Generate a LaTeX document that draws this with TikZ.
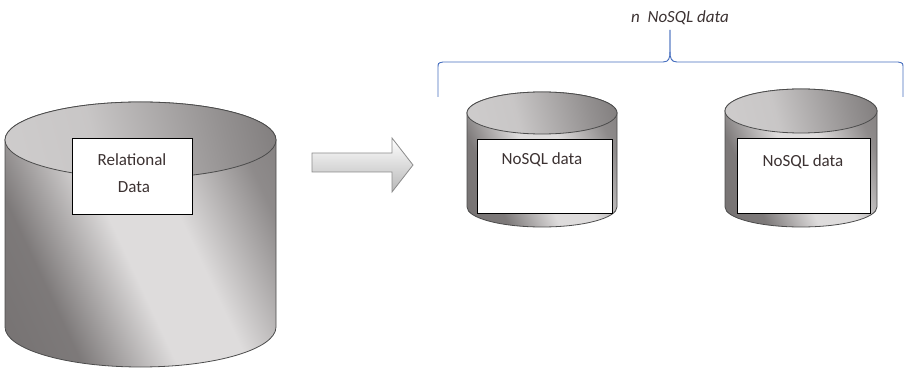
\documentclass[tikz,border=0pt]{standalone}
\usepackage{fontspec}
\setmainfont{Carlito}
\definecolor{cylDark}{RGB}{108,104,104}
\definecolor{cylLight}{RGB}{222,220,220}
\definecolor{capLight}{RGB}{212,210,210}
\definecolor{capDark}{RGB}{96,92,92}
\definecolor{txtGray}{RGB}{60,50,50}
\definecolor{braceBlue}{RGB}{70,110,190}
\pgfdeclarehorizontalshading{cylbody}{100bp}{%
  color(0bp)=(cylDark);
  color(30bp)=(cylDark!85!cylLight);
  color(46bp)=(cylLight);
  color(58bp)=(cylLight);
  color(74bp)=(cylDark!70!cylLight);
  color(100bp)=(cylDark)}
\pgfdeclarehorizontalshading{cylcap}{100bp}{%
  color(0bp)=(capLight);
  color(40bp)=(capLight!90!capDark);
  color(68bp)=(capLight!45!capDark);
  color(100bp)=(capDark)}
\begin{document}
\begin{tikzpicture}[x=1pt,y=1pt,
  edge/.style={draw=black!70,line width=0.8pt},
  bodyshade/.style={edge,shading=cylbody,shading angle=25},
  capshade/.style={edge,shading=cylcap,shading angle=15},
  labelbox/.style={draw=black,line width=0.9pt,fill=white,inner sep=0pt},
  lbl/.style={font=\fontsize{17}{19}\selectfont,text=txtGray,inner sep=0pt},
  brace/.style={draw=braceBlue,line width=0.9pt}]
\useasboundingbox (0,0) rectangle (905,367);

% large relational store
\path[bodyshade] (5,227) -- (5,40) arc[start angle=180,end angle=360,x radius=135.5,y radius=40]
  -- (276,227) arc[start angle=0,end angle=180,x radius=135.5,y radius=38] -- cycle;
\path[capshade] (140.5,227) ellipse[x radius=135.5,y radius=38];
\node[labelbox,minimum width=120pt,minimum height=76pt] (relbox) at (132,191) {};
\node[lbl] (reltxt1) at (132,207) {Relational};
\node[lbl] (reltxt2) at (134,180) {Data};

% transition arrow
\path[draw=black!45,line width=0.8pt,top color=white,bottom color=black!28]
  (312,214) -- (392,214) -- (392,229) -- (413,202) -- (392,175) -- (392,195) -- (312,195) -- cycle;

% first NoSQL store
\path[bodyshade] (467,254) -- (467,160) arc[start angle=180,end angle=360,x radius=75,y radius=20]
  -- (617,254) arc[start angle=0,end angle=180,x radius=75,y radius=21] -- cycle;
\path[capshade] (542,254) ellipse[x radius=75,y radius=21];
\node[labelbox,minimum width=135pt,minimum height=74pt] (nosqlboxA) at (544.5,191) {};
\node[lbl] (nosqltxtA) at (542,207) {NoSQL data};

% second NoSQL store
\path[bodyshade] (725,256) -- (725,160) arc[start angle=180,end angle=360,x radius=76,y radius=20]
  -- (877,256) arc[start angle=0,end angle=180,x radius=76,y radius=22] -- cycle;
\path[capshade] (801,256) ellipse[x radius=76,y radius=22];
\node[labelbox,minimum width=133pt,minimum height=75pt] (nosqlboxB) at (803.5,191.5) {};
\node[lbl] (nosqltxtB) at (803,205) {NoSQL data};

% grouping brace
\coordinate (braceL) at (438,270);
\coordinate (braceTip) at (670,337);
\coordinate (braceR) at (903,270);
\path[brace] (braceL) -- (438,299) .. controls (438,304) .. (443,305) -- (663,305)
  .. controls (669,305) and (670,309) .. (670,316) -- (braceTip);
\path[brace] (braceTip) -- (670,316) .. controls (670,309) and (671,305) .. (677,305)
  -- (898,305) .. controls (903,304) .. (903,299) -- (braceR);
\node[lbl,font=\fontsize{17}{19}\selectfont\itshape] (grouptxt) at (680,349) {n\ \ NoSQL data};
\end{tikzpicture}
\end{document}
